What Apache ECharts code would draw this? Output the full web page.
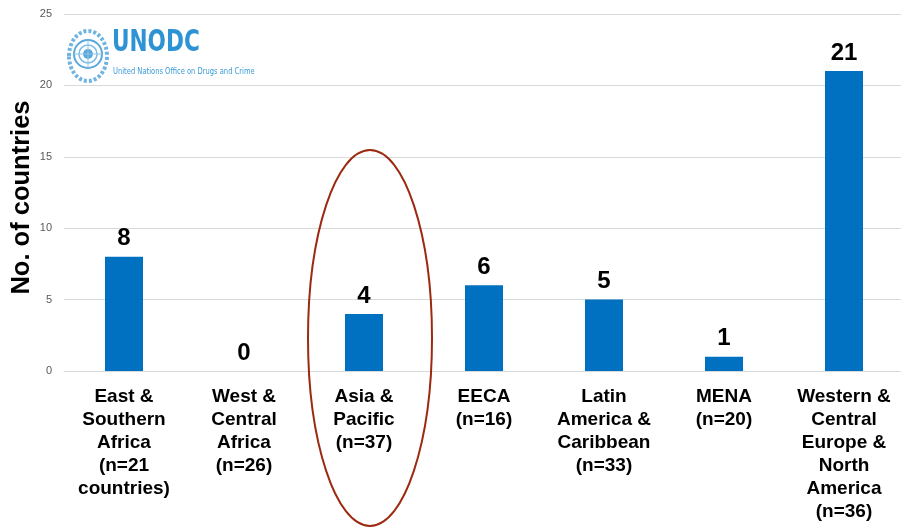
<!DOCTYPE html>
<html>
<head>
<meta charset="utf-8">
<script src="https://cdn.jsdelivr.net/npm/echarts@6/dist/echarts.min.js"></script>
<style>html,body{margin:0;padding:0;background:#fff}#c{width:901px;height:527px}</style>
</head>
<body>
<div id="c"></div>
<script>
const categories = [
  "East &\nSouthern\nAfrica\n(n=21\ncountries)",
  "West &\nCentral\nAfrica\n(n=26)",
  "Asia &\nPacific\n(n=37)",
  "EECA\n(n=16)",
  "Latin\nAmerica &\nCaribbean\n(n=33)",
  "MENA\n(n=20)",
  "Western &\nCentral\nEurope &\nNorth\nAmerica\n(n=36)"
];
const values = [8, 0, 4, 6, 5, 1, 21];
const yTicks = [0, 5, 10, 15, 20, 25];

const chart = echarts.init(document.getElementById('c'));
const FONT = '"Liberation Sans", Arial, sans-serif';
const NARROW = '"Liberation Sans Narrow", "DejaVu Sans Condensed", sans-serif';
chart.setOption({
  animation: false,
  grid: { left: 64, top: 14, width: 840, height: 357, containLabel: false, outerBoundsMode: 'none' },
  xAxis: {
    type: 'category', data: categories,
    axisLine: { show: true, lineStyle: { color: '#d9d9d9', width: 1 } },
    axisTick: { show: false },
    axisLabel: { interval: 0, margin: 14, fontFamily: FONT, fontWeight: 'bold', fontSize: 19, lineHeight: 23, color: '#000' }
  },
  yAxis: {
    type: 'value', min: yTicks[0], max: yTicks[yTicks.length - 1], interval: 5,
    name: 'No. of countries', nameLocation: 'middle', nameGap: 29, nameMoveOverlap: false,
    nameTextStyle: { fontFamily: FONT, fontWeight: 'bold', fontSize: 25.5, color: '#000', padding: [0, 10, 0, 0] },
    axisLine: { show: false }, axisTick: { show: false },
    axisLabel: { fontFamily: FONT, fontSize: 11, color: '#595959', margin: 12 },
    splitLine: { lineStyle: { color: '#d9d9d9', width: 1 } }
  },
  series: [{
    type: 'bar', data: values, barWidth: 38,
    itemStyle: { color: '#0070c0' },
    label: { show: true, position: 'top', distance: 6, fontFamily: FONT, fontWeight: 'bold', fontSize: 24, color: '#000' }
  }],
  graphic: [
    { type: 'ellipse', shape: { cx: 370, cy: 338, rx: 62, ry: 188 }, style: { fill: 'none', stroke: '#9c2a10', lineWidth: 2 }, z: 10 },
    { type: 'ellipse', shape: { cx: 88, cy: 56, rx: 19, ry: 25 }, style: { fill: 'none', stroke: '#6fb4e2', lineWidth: 4, lineDash: [3, 2] } },
    { type: 'circle', shape: { cx: 88, cy: 54, r: 14 }, style: { fill: 'none', stroke: '#5aa8dc', lineWidth: 2 } },
    { type: 'circle', shape: { cx: 88, cy: 54, r: 9 }, style: { fill: 'none', stroke: '#7dbce6', lineWidth: 1.5 } },
    { type: 'circle', shape: { cx: 88, cy: 54, r: 5 }, style: { fill: '#5aa8dc' } },
    { type: 'line', shape: { x1: 88, y1: 40, x2: 88, y2: 68 }, style: { stroke: '#8cc4ea', lineWidth: 1 } },
    { type: 'line', shape: { x1: 74, y1: 54, x2: 102, y2: 54 }, style: { stroke: '#8cc4ea', lineWidth: 1 } },
    { type: 'text', x: 112, y: 28, scaleX: 0.8, style: { text: 'UNODC', fontFamily: NARROW, fontWeight: 'bold', fontSize: 30, fill: '#2e93d4' } },
    { type: 'text', x: 113, y: 67, scaleX: 0.79, style: { text: 'United Nations Office on Drugs and Crime', fontFamily: NARROW, fontSize: 9.5, fill: '#3a9ad9' } }
  ]
});
</script>
</body>
</html>
